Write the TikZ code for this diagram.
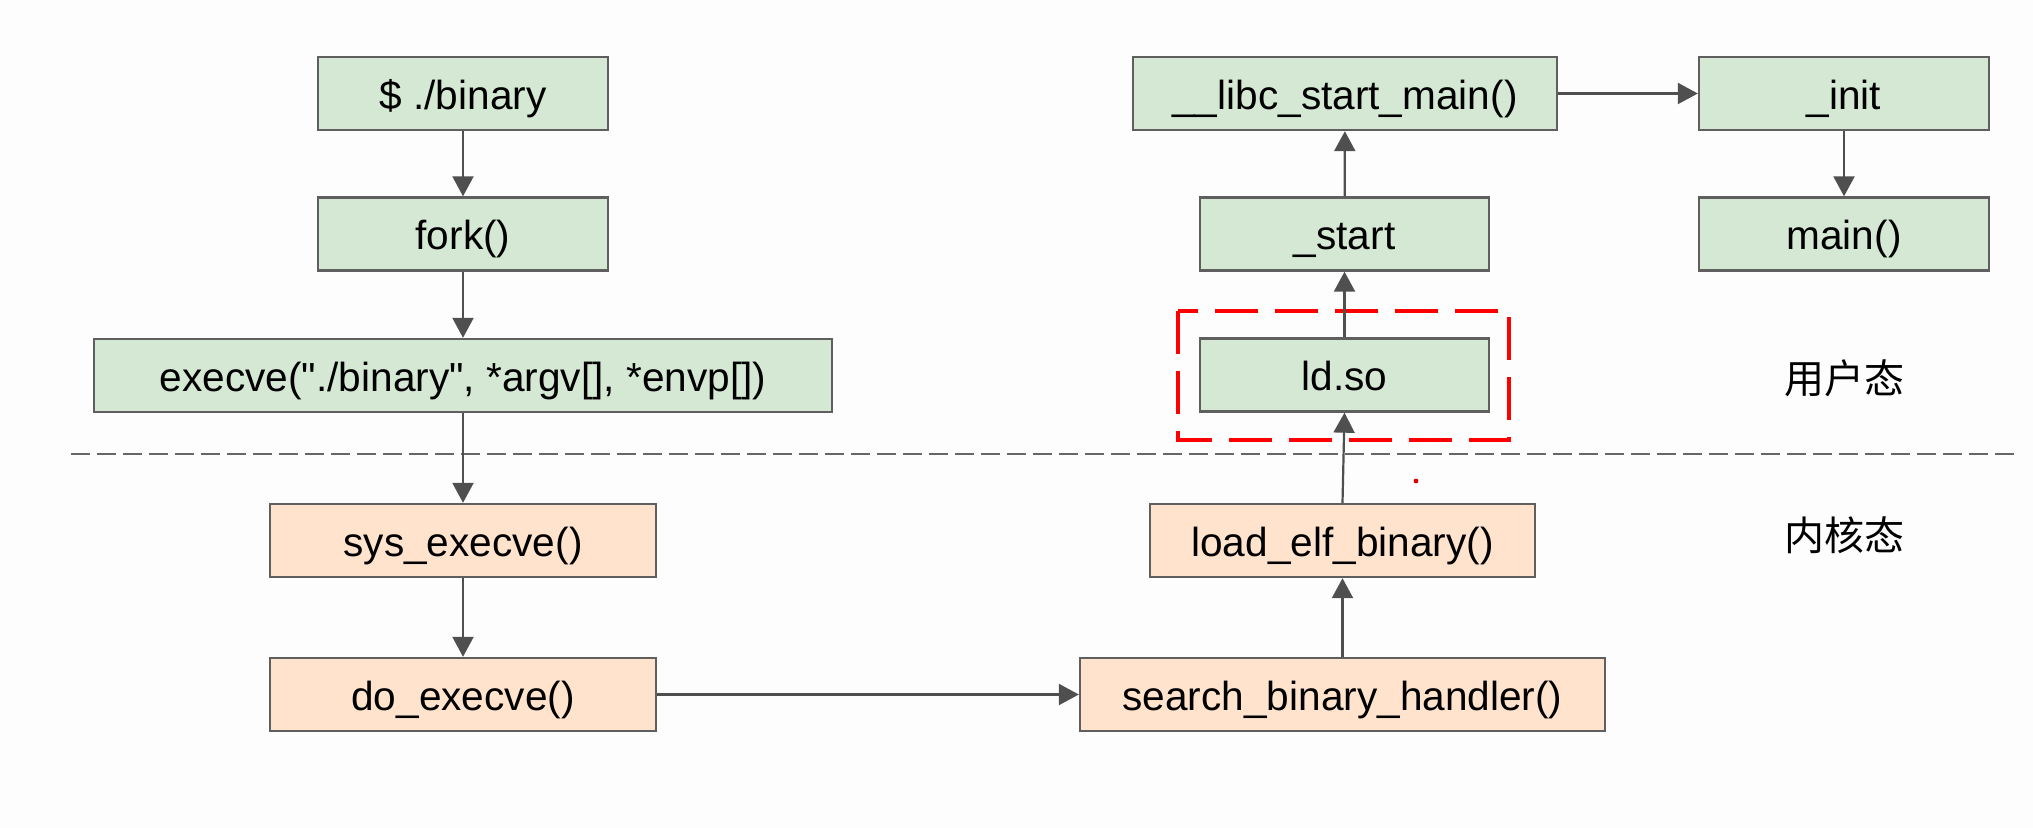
\documentclass[tikz,border=0pt]{standalone}
\usepackage{fontspec}
\setmainfont{Liberation Sans}[Ligatures=TeXOff]
\newfontfamily\cjk{Noto Sans CJK SC}
\usetikzlibrary{arrows.meta}
\definecolor{bgc}{HTML}{FDFDFD}
\definecolor{gfill}{HTML}{D5E8D4}
\definecolor{ofill}{HTML}{FFE3CC}
\definecolor{bord}{HTML}{5F5F5F}
\definecolor{arr}{HTML}{4F4F4F}
\definecolor{dashc}{HTML}{666666}
\tikzset{
  box/.style={draw=bord, line width=1.2pt, minimum height=36.5pt, inner sep=0pt,
    text height=18.5pt, text depth=2.5pt,
    font=\fontsize{20.3pt}{24pt}\selectfont},
  gbox/.style={box, fill=gfill},
  obox/.style={box, fill=ofill},
  conn/.style={draw=arr, line width=1.1pt, -{Triangle[length=10pt,width=10.5pt]}},
  lbl/.style={font=\cjk\fontsize{20pt}{24pt}\selectfont, inner sep=0pt}
}
\begin{document}
\begin{tikzpicture}[x=0.5pt,y=-0.5pt]
\fill[bgc] (0,0) rectangle (2033,828);
\useasboundingbox (0,0) rectangle (2033,828);
% user space
\node[gbox, minimum width=145pt] (bin) at (463,93.5) {\$ ./binary};
\node[gbox, minimum width=145pt] (fork) at (463,234) {fork()};
\node[gbox, minimum width=369pt] (execve) at (463,375.5) {execve("./binary", *argv[], *envp[])};
\node[gbox, minimum width=212pt] (libc) at (1345,93.5) {\_\_libc\_start\_main()};
\node[gbox, minimum width=145pt] (init) at (1844,93.5) {\_init};
\node[gbox, minimum width=144.5pt] (start) at (1344.5,234) {\_start};
\node[gbox, minimum width=145pt] (main) at (1844,234) {main()};
\node[gbox, minimum width=144.5pt] (ld) at (1344.5,375) {ld.so};
% kernel
\node[obox, minimum width=193pt] (sys) at (463,540.5) {sys\_execve()};
\node[obox, minimum width=193pt] (do) at (463,694.5) {do\_execve()};
\node[obox, minimum width=262.5pt] (search) at (1342.5,694.5) {search\_binary\_handler()};
\node[obox, minimum width=192.5pt] (load) at (1342.5,540.5) {load\_elf\_binary()};
% red dashed highlight
\draw[red, line width=2.3pt, dash pattern=on 21.5pt off 8.5pt] (1178,311) rectangle (1509,440);
% separator
\draw[dashc, line width=1.3pt, dash pattern=on 9.5pt off 3.5pt] (71,454) -- (2014,454);
% connectors
\draw[conn] (bin) -- (fork);
\draw[conn] (fork) -- (execve);
\draw[conn] (execve) -- (sys);
\draw[conn] (sys) -- (do);
\draw[conn] (do) -- (search);
\draw[conn] (search.north -| load) -- (load);
\draw[conn] (load.north) -- (ld.south);
\draw[conn] (ld) -- (start);
\draw[conn] (start) -- (libc);
\draw[conn] (libc) -- (init);
\draw[conn] (init) -- (main);
% labels
\node[lbl] (user) at (1844,378) {用户态};
\node[lbl] (kern) at (1844,535) {内核态};
% small red mark
\fill[red!85!black] (1416,481) circle (1.2pt);
\end{tikzpicture}
\end{document}
